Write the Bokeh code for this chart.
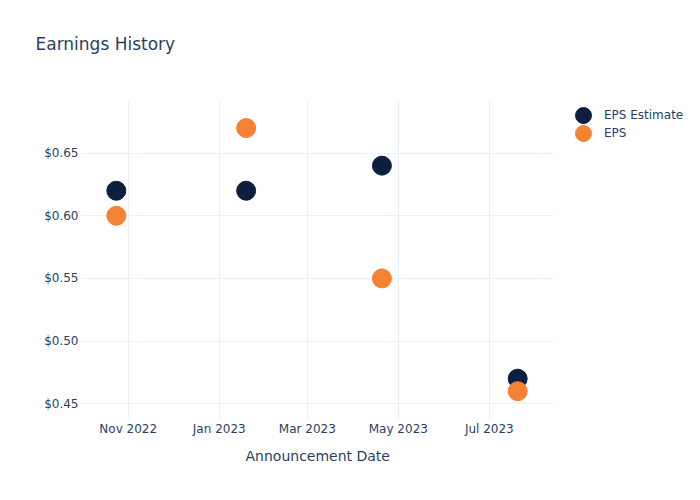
from datetime import datetime
from bokeh.plotting import figure
from bokeh.models import (ColumnDataSource, Range1d, DatetimeTickFormatter, FixedTicker,
                          NumeralTickFormatter, SingleIntervalTicker, Legend, LegendItem, Title,
                          BoxAnnotation)
from bokeh.embed import file_html
from bokeh.resources import INLINE

# ---- data ----
announce_dates = ["2022-10-24", "2023-01-19", "2023-04-20", "2023-07-20"]
eps_estimate = [0.62, 0.62, 0.64, 0.47]
eps_actual = [0.60, 0.67, 0.55, 0.46]
series_names = ["EPS Estimate", "EPS"]
x_tick_dates = ["2022-11-01", "2023-01-01", "2023-03-01", "2023-05-01", "2023-07-01"]

FONT = "DejaVu Sans"
TXT = "#2a3f5f"
GRID = "#ebf0f8"
C_EST = "#0d1f3f"
C_EPS = "#f58233"

def to_dt(s):
    return datetime.strptime(s, "%Y-%m-%d")

def to_ms(d):
    return (d - datetime(1970, 1, 1)).total_seconds() * 1000.0

dts = [to_dt(d) for d in announce_dates]
src = ColumnDataSource(dict(x=dts, est=eps_estimate, act=eps_actual))

# plotting area spans 473 px; the frame is extended 147 px more to the right for the legend
x_start = datetime(2022, 9, 30)
x_plot_end = datetime(2023, 8, 13)
x_end = x_start + (x_plot_end - x_start) * (620 / 473)

p = figure(width=700, height=500, x_axis_type="datetime", output_backend="svg",
           toolbar_location=None, tools="",
           x_range=Range1d(x_start, x_end),
           y_range=Range1d(0.4366, 0.692),
           min_border_left=80, min_border_right=0, min_border_top=100, min_border_bottom=80)
p.outline_line_color = None
p.background_fill_color = "white"
p.border_fill_color = "white"

# real title further up, blank spacer title nearest the frame
p.title = Title(text="Earnings History", align="left", offset=-45, standoff=0,
                text_font=FONT, text_font_size="17px", text_font_style="normal",
                text_color=TXT)
p.add_layout(Title(text=" ", text_font_size="10px", standoff=34, text_color="white"), "above")

r1 = p.scatter("x", "est", source=src, size=19, color=C_EST, line_color=C_EST)
r2 = p.scatter("x", "act", source=src, size=19, color=C_EPS, line_color=C_EPS)

p.xaxis.ticker = FixedTicker(ticks=[to_ms(to_dt(d)) for d in x_tick_dates])
p.xaxis.formatter = DatetimeTickFormatter(months="%b %Y", days="%b %Y")
p.yaxis.ticker = SingleIntervalTicker(interval=0.05)
p.yaxis.formatter = NumeralTickFormatter(format="$0.00")

for ax in (p.xaxis, p.yaxis):
    ax.axis_line_color = None
    ax.major_tick_line_color = None
    ax.minor_tick_line_color = None
    ax.major_tick_out = 0
    ax.major_tick_in = 0
    ax.minor_tick_out = 0
    ax.major_label_text_font = FONT
    ax.major_label_text_font_size = "12px"
    ax.major_label_text_color = TXT
p.xaxis.major_label_standoff = 1
p.yaxis.major_label_standoff = 2

p.add_layout(Title(text="Announcement Date", align="left", offset=165, standoff=14,
                   text_font=FONT, text_font_size="14px", text_font_style="normal",
                   text_color=TXT), "below")

p.xgrid.grid_line_color = GRID
p.ygrid.grid_line_color = GRID
p.xgrid.ticker = p.xaxis.ticker
p.ygrid.ticker = p.yaxis.ticker

# blank the grid to the right of the plotting area (legend area)
p.add_layout(BoxAnnotation(left=x_plot_end, fill_color="white", fill_alpha=1.0,
                           line_color=None, level="underlay"))

for i, (name, rend) in enumerate([(series_names[0], r1), (series_names[1], r2)]):
    lg = Legend(items=[LegendItem(label=name, renderers=[rend])],
                location=(483, 285 - 18 * i), margin=0, padding=0, spacing=0,
                glyph_width=40, glyph_height=40, label_height=40, label_standoff=1,
                label_text_font=FONT, label_text_font_size="12px", label_text_color=TXT,
                border_line_color=None, background_fill_alpha=0)
    p.add_layout(lg, "center")

open("out.html", "w").write(file_html(p, INLINE))
